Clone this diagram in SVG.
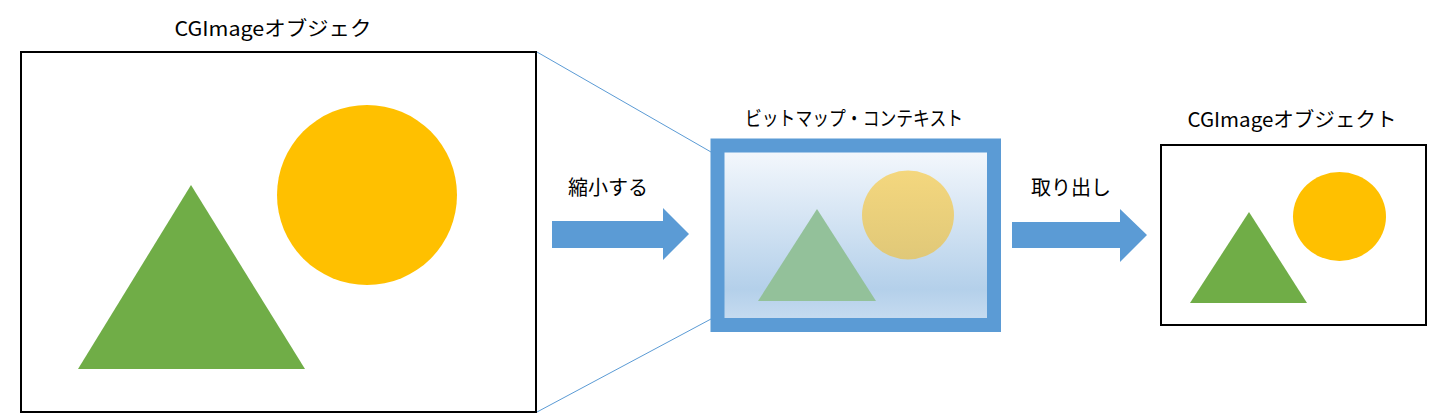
<svg xmlns="http://www.w3.org/2000/svg" width="1445" height="417" viewBox="0 0 1445 417">
<style>
.lbl{font-family:"Noto Sans CJK JP","Liberation Sans",sans-serif;font-size:20px;fill:#000;text-anchor:middle}
.frame{fill:#fff;stroke:#000;stroke-width:2}
.tri{fill:#70AD47}
.sun{fill:#FFC000}
.arrow{fill:#5B9BD5}
.guide{stroke:#5B9BD5;stroke-width:1;fill:none}
</style>
<defs>
<linearGradient id="bg" x1="0" y1="0" x2="0" y2="1">
<stop offset="0" stop-color="#F6F9FD"/>
<stop offset="0.8" stop-color="#B4D0EA"/>
<stop offset="1" stop-color="#C9DDF1"/>
</linearGradient>
<linearGradient id="sunG" x1="0" y1="0" x2="0" y2="1">
<stop offset="0" stop-color="#F4D77E"/>
<stop offset="1" stop-color="#E0C878"/>
</linearGradient>
</defs>
<g id="connectors">
<line class="guide" x1="537" y1="52" x2="711" y2="152"/>
<line class="guide" x1="537" y1="412" x2="711" y2="319"/>
<path id="arrow-shrink" class="arrow" d="M552,221 H663 V208 L689,234 L663,260 V248 H552 Z"/>
<path id="arrow-extract" class="arrow" d="M1012,222 H1120 V209 L1147,235 L1120,262 V248 H1012 Z"/>
<text class="lbl" x="608" y="195">縮小する</text>
<text class="lbl" x="1071" y="195">取り出し</text>
</g>
<g id="source-image">
<text class="lbl" x="273" y="36" textLength="197" lengthAdjust="spacingAndGlyphs">CGImageオブジェク</text>
<rect class="frame" x="21" y="52" width="515" height="360"/>
<circle class="sun" cx="367" cy="195" r="90"/>
<polygon class="tri" points="191,185 305,369 78,369"/>
</g>
<g id="bitmap-context">
<text class="lbl" x="854" y="126" textLength="218" lengthAdjust="spacingAndGlyphs">ビットマップ・コンテキスト</text>
<rect x="717.5" y="145.5" width="276.5" height="179.5" fill="url(#bg)" stroke="#5B9BD5" stroke-width="14"/>
<ellipse cx="908" cy="215" rx="46" ry="44.5" fill="url(#sunG)"/>
<polygon points="817,209 876,301 758,301" fill="#93C19A"/>
</g>
<g id="result-image">
<text class="lbl" x="1292" y="127" textLength="209" lengthAdjust="spacingAndGlyphs">CGImageオブジェクト</text>
<rect class="frame" x="1161" y="145" width="265" height="180"/>
<ellipse class="sun" cx="1339.5" cy="216.5" rx="46.5" ry="44.5"/>
<polygon class="tri" points="1249,212 1307,303 1190,303"/>
</g>
</svg>
